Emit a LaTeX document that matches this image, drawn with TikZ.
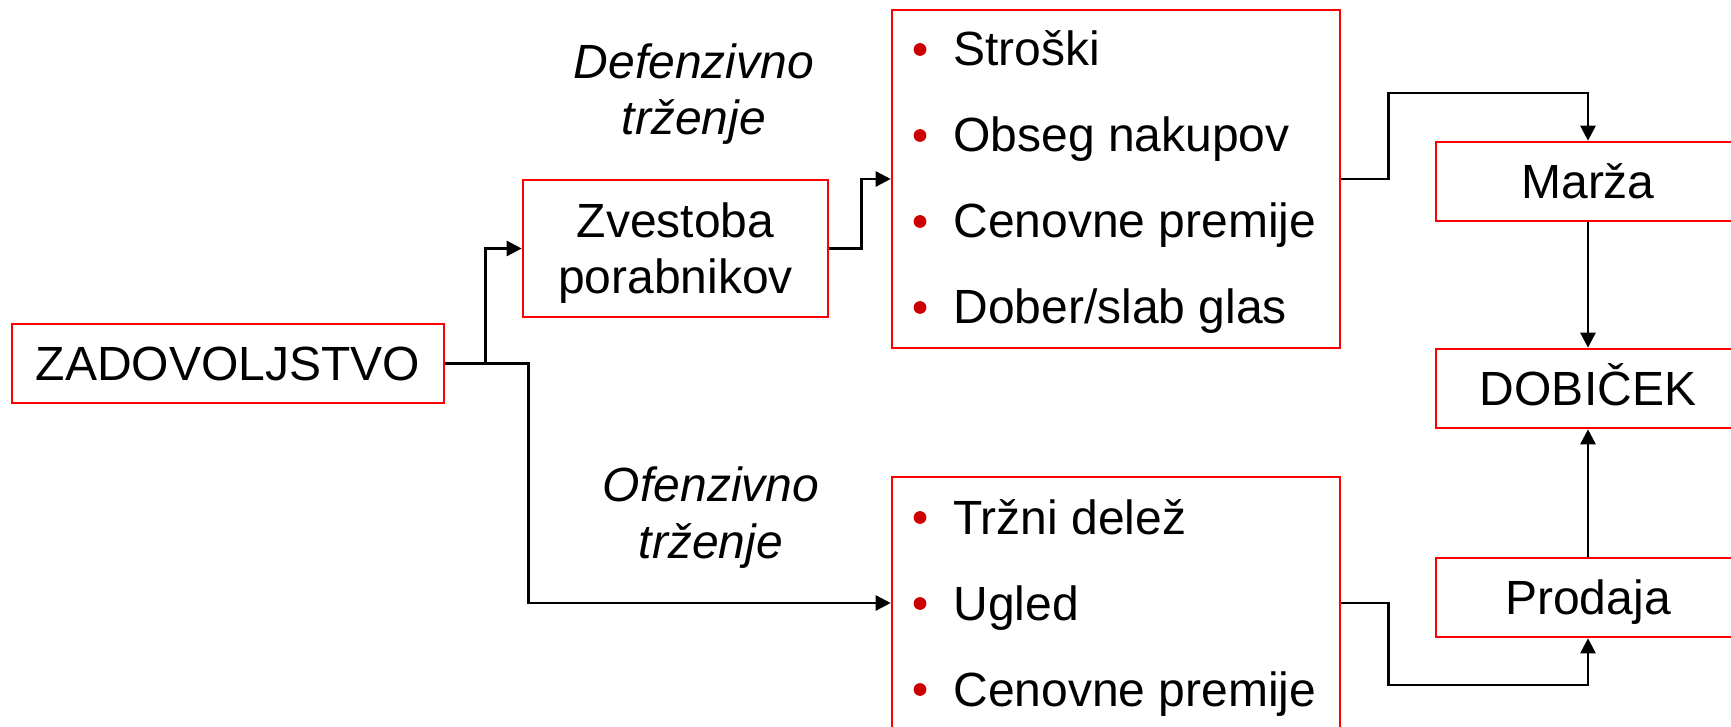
\documentclass[tikz,border=0pt]{standalone}
\usepackage{fontspec}
\setmainfont{Liberation Sans}
\usepackage{tikz}
\usetikzlibrary{arrows.meta,positioning}
\definecolor{boxred}{RGB}{255,0,0}
\definecolor{bulletred}{RGB}{204,0,0}
\tikzset{
  box/.style={draw=boxred,line width=1.3pt,inner sep=0pt,align=center,text depth=0pt},
  onebox/.style={box,text height=17.2pt,minimum width=152pt,minimum height=39.5pt},
  conn/.style={line width=1.3pt,-{Triangle[length=7.5pt,width=7.5pt]}},
  item/.style={anchor=base west,inner sep=0pt},
  lab/.style={anchor=base,inner sep=0pt,font=\fontsize{24}{28}\selectfont\itshape}
}

\begin{document}
\begin{tikzpicture}[x=0.5pt,y=-0.5pt,every node/.style={font=\fontsize{24}{28}\selectfont}]
\useasboundingbox (0,0) rectangle (1731,727);
\clip (0,0) rectangle (1731,727);
\node[box,text height=17.2pt,minimum width=216pt,minimum height=39.5pt] (zad) at (228,363.5) {ZADOVOLJSTVO};
\node[box,minimum width=152.5pt,minimum height=68.5pt] (zvest) at (675.5,248.5) {Zvestoba\\porabnikov};
\node[box,minimum width=224pt,minimum height=169pt] (upbox) at (1116,179) {};
\node[box,minimum width=224pt,minimum height=126pt] (lowbox) at (1116,603) {};
\node[onebox] (marza) at (1588,181.5) {Marža};
\node[onebox] (dobicek) at (1588,388.5) {DOBIČEK};
\node[onebox] (prodaja) at (1588,597.5) {Prodaja};
% bullet lists
\foreach \txt [count=\i from 0] in {Stroški,Obseg nakupov,Cenovne premije,Dober/slab glas}{
  \fill[bulletred] (920,{49.5+86*\i}) circle (3.2pt);
  \node[item] (up\i) at (953,{66+86*\i}) {\txt};
}
\foreach \txt [count=\i from 0] in {Tržni delež,Ugled,Cenovne premije}{
  \fill[bulletred] (920,{517.5+86*\i}) circle (3.2pt);
  \node[item] (low\i) at (953,{534+86*\i}) {\txt};
}
\node[lab] (def1) at (694,79) {Defenzivno};
\node[lab] (def2) at (694,135) {trženje};
\node[lab] (ofe1) at (711,502) {Ofenzivno};
\node[lab] (ofe2) at (711,558) {trženje};
\coordinate (mtop) at (1588,93);
\coordinate (pbot) at (1588,685);
\draw[conn] (zad.east) -- ++(40,0) |- (zvest.west);
\draw[conn] (zad.east) -- ++(83,0) |- (lowbox.west);
\draw[conn] (zvest.east) -- ++(32,0) |- (upbox.west);
\draw[conn] (upbox.east) -- ++(47,0) |- (mtop) -- (marza.north);
\draw[conn] (lowbox.east) -- ++(47,0) |- (pbot) -- (prodaja.south);
\draw[conn] (marza) -- (dobicek);
\draw[conn] (prodaja) -- (dobicek);
\end{tikzpicture}
\end{document}
